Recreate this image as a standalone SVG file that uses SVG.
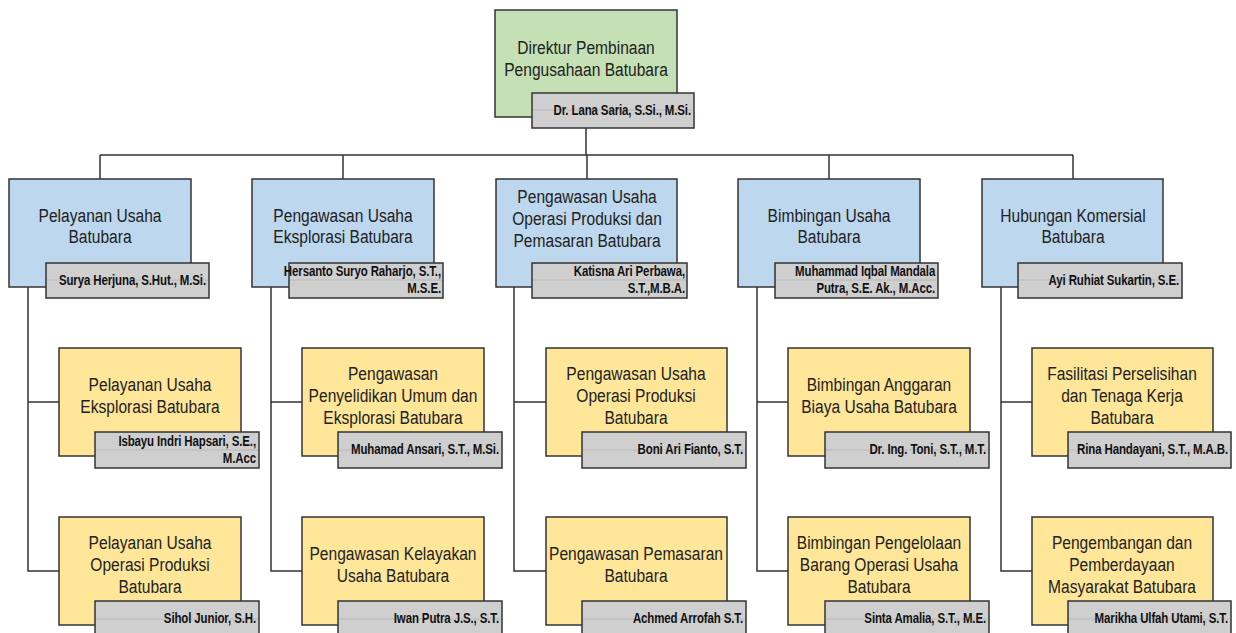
<svg xmlns="http://www.w3.org/2000/svg" width="1236" height="633" viewBox="0 0 1236 633">
<style>
.g{fill:#c5e0b4;stroke:#333;stroke-width:1.5}
.b{fill:#bdd7ee;stroke:#333;stroke-width:1.5}
.y{fill:#ffe699;stroke:#333;stroke-width:1.5}
.n{fill:#d0cfcf;stroke:#333;stroke-width:1.5}
.nl{stroke:#b8b8b8;stroke-width:1}
.t{font-family:"Liberation Sans",Arial,sans-serif;font-size:19px;fill:#222;text-anchor:middle;transform-box:fill-box;transform-origin:center;transform:scaleX(0.82)}
.p{font-family:"Liberation Sans",Arial,sans-serif;font-size:14px;font-weight:bold;fill:#111;text-anchor:end;letter-spacing:-0.15px;transform-box:fill-box;transform-origin:right center;transform:scaleX(0.82)}
.c{fill:none;stroke:#333;stroke-width:1.5}
</style>
<g id="connectors">
<path class="c" d="M586 128V155M100 155H1073M100 155V179M343 155V179M587 155V179M829 155V179M1073 155V179"/>
<path class="c" d="M28 287V571H59M28 402H59"/>
<path class="c" d="M271 287V571H302M271 402H302"/>
<path class="c" d="M514 287V571H546M514 402H546"/>
<path class="c" d="M757 287V571H788M757 402H788"/>
<path class="c" d="M1001 287V571H1032M1001 402H1032"/>
</g>
<g id="direktur">
<rect class="g" x="495" y="10" width="182" height="107"/>
<text class="t" x="586" y="54">Direktur Pembinaan</text>
<text class="t" x="586" y="76">Pengusahaan Batubara</text>
<rect class="n" x="532" y="93" width="162" height="35"/>
<line class="nl" x1="533" y1="110" x2="693" y2="110"/>
<text class="p" x="691" y="115">Dr. Lana Saria, S.Si., M.Si.</text>
</g>
<g id="pelayanan-usaha">
<rect class="b" x="9" y="179" width="182" height="108"/>
<text class="t" x="100" y="222">Pelayanan Usaha</text>
<text class="t" x="100" y="243">Batubara</text>
<rect class="n" x="46" y="263" width="163" height="35"/>
<line class="nl" x1="47" y1="280" x2="208" y2="280"/>
<text class="p" x="206" y="285">Surya Herjuna, S.Hut., M.Si.</text>
</g>
<g id="pengawasan-eksplorasi">
<rect class="b" x="252" y="179" width="182" height="108"/>
<text class="t" x="343" y="222">Pengawasan Usaha</text>
<text class="t" x="343" y="243">Eksplorasi Batubara</text>
<rect class="n" x="289" y="263" width="154" height="35"/>
<line class="nl" x1="290" y1="280" x2="442" y2="280"/>
<text class="p" x="441" y="276">Hersanto Suryo Raharjo, S.T.,</text>
<text class="p" x="441" y="293">M.S.E.</text>
</g>
<g id="pengawasan-operasi">
<rect class="b" x="496" y="179" width="181" height="108"/>
<text class="t" x="587" y="203">Pengawasan Usaha</text>
<text class="t" x="587" y="225">Operasi Produksi dan</text>
<text class="t" x="587" y="247">Pemasaran Batubara</text>
<rect class="n" x="532" y="263" width="155" height="35"/>
<line class="nl" x1="533" y1="280" x2="686" y2="280"/>
<text class="p" x="685" y="276">Katisna Ari Perbawa,</text>
<text class="p" x="685" y="293">S.T.,M.B.A.</text>
</g>
<g id="bimbingan-usaha">
<rect class="b" x="738" y="179" width="182" height="108"/>
<text class="t" x="829" y="222">Bimbingan Usaha</text>
<text class="t" x="829" y="243">Batubara</text>
<rect class="n" x="775" y="263" width="163" height="35"/>
<line class="nl" x1="776" y1="280" x2="937" y2="280"/>
<text class="p" x="935" y="276">Muhammad Iqbal Mandala</text>
<text class="p" x="935" y="293">Putra, S.E. Ak., M.Acc.</text>
</g>
<g id="hubungan-komersial">
<rect class="b" x="982" y="179" width="181" height="108"/>
<text class="t" x="1073" y="222">Hubungan Komersial</text>
<text class="t" x="1073" y="243">Batubara</text>
<rect class="n" x="1018" y="263" width="164" height="35"/>
<line class="nl" x1="1019" y1="280" x2="1181" y2="280"/>
<text class="p" x="1179" y="285">Ayi Ruhiat Sukartin, S.E.</text>
</g>
<g id="pelayanan-eksplorasi">
<rect class="y" x="59" y="348" width="182" height="108"/>
<text class="t" x="150" y="391">Pelayanan Usaha</text>
<text class="t" x="150" y="413">Eksplorasi Batubara</text>
<rect class="n" x="95" y="432" width="164" height="36"/>
<line class="nl" x1="96" y1="450" x2="258" y2="450"/>
<text class="p" x="256" y="446">Isbayu Indri Hapsari, S.E.,</text>
<text class="p" x="256" y="463">M.Acc</text>
</g>
<g id="pelayanan-operasi">
<rect class="y" x="59" y="517" width="182" height="108"/>
<text class="t" x="150" y="549">Pelayanan Usaha</text>
<text class="t" x="150" y="571">Operasi Produksi</text>
<text class="t" x="150" y="593">Batubara</text>
<rect class="n" x="95" y="601" width="164" height="36"/>
<line class="nl" x1="96" y1="619" x2="258" y2="619"/>
<text class="p" x="256" y="623">Sihol Junior, S.H.</text>
</g>
<g id="pengawasan-penyelidikan">
<rect class="y" x="302" y="348" width="182" height="108"/>
<text class="t" x="393" y="380">Pengawasan</text>
<text class="t" x="393" y="402">Penyelidikan Umum dan</text>
<text class="t" x="393" y="424">Eksplorasi Batubara</text>
<rect class="n" x="338" y="432" width="164" height="36"/>
<line class="nl" x1="339" y1="450" x2="501" y2="450"/>
<text class="p" x="499" y="454">Muhamad Ansari, S.T., M.Si.</text>
</g>
<g id="pengawasan-kelayakan">
<rect class="y" x="302" y="517" width="182" height="108"/>
<text class="t" x="393" y="560">Pengawasan Kelayakan</text>
<text class="t" x="393" y="582">Usaha Batubara</text>
<rect class="n" x="338" y="601" width="164" height="36"/>
<line class="nl" x1="339" y1="619" x2="501" y2="619"/>
<text class="p" x="499" y="623">Iwan Putra J.S., S.T.</text>
</g>
<g id="pengawasan-usaha-operasi">
<rect class="y" x="546" y="348" width="181" height="108"/>
<text class="t" x="636" y="380">Pengawasan Usaha</text>
<text class="t" x="636" y="402">Operasi Produksi</text>
<text class="t" x="636" y="424">Batubara</text>
<rect class="n" x="582" y="432" width="164" height="36"/>
<line class="nl" x1="583" y1="450" x2="745" y2="450"/>
<text class="p" x="743" y="454">Boni Ari Fianto, S.T.</text>
</g>
<g id="pengawasan-pemasaran">
<rect class="y" x="546" y="517" width="181" height="108"/>
<text class="t" x="636" y="560">Pengawasan Pemasaran</text>
<text class="t" x="636" y="582">Batubara</text>
<rect class="n" x="582" y="601" width="164" height="36"/>
<line class="nl" x1="583" y1="619" x2="745" y2="619"/>
<text class="p" x="743" y="623">Achmed Arrofah S.T.</text>
</g>
<g id="bimbingan-anggaran">
<rect class="y" x="788" y="348" width="182" height="108"/>
<text class="t" x="879" y="391">Bimbingan Anggaran</text>
<text class="t" x="879" y="413">Biaya Usaha Batubara</text>
<rect class="n" x="825" y="432" width="164" height="36"/>
<line class="nl" x1="826" y1="450" x2="988" y2="450"/>
<text class="p" x="986" y="454">Dr. Ing. Toni, S.T., M.T.</text>
</g>
<g id="bimbingan-pengelolaan">
<rect class="y" x="788" y="517" width="182" height="108"/>
<text class="t" x="879" y="549">Bimbingan Pengelolaan</text>
<text class="t" x="879" y="571">Barang Operasi Usaha</text>
<text class="t" x="879" y="593">Batubara</text>
<rect class="n" x="825" y="601" width="164" height="36"/>
<line class="nl" x1="826" y1="619" x2="988" y2="619"/>
<text class="p" x="986" y="623">Sinta Amalia, S.T., M.E.</text>
</g>
<g id="fasilitasi-perselisihan">
<rect class="y" x="1032" y="348" width="181" height="108"/>
<text class="t" x="1122" y="380">Fasilitasi Perselisihan</text>
<text class="t" x="1122" y="402">dan Tenaga Kerja</text>
<text class="t" x="1122" y="424">Batubara</text>
<rect class="n" x="1068" y="432" width="163" height="36"/>
<line class="nl" x1="1069" y1="450" x2="1230" y2="450"/>
<text class="p" x="1228" y="454">Rina Handayani, S.T., M.A.B.</text>
</g>
<g id="pengembangan-pemberdayaan">
<rect class="y" x="1032" y="517" width="181" height="108"/>
<text class="t" x="1122" y="549">Pengembangan dan</text>
<text class="t" x="1122" y="571">Pemberdayaan</text>
<text class="t" x="1122" y="593">Masyarakat Batubara</text>
<rect class="n" x="1068" y="601" width="163" height="36"/>
<line class="nl" x1="1069" y1="619" x2="1230" y2="619"/>
<text class="p" x="1228" y="623">Marikha Ulfah Utami, S.T.</text>
</g>
</svg>
